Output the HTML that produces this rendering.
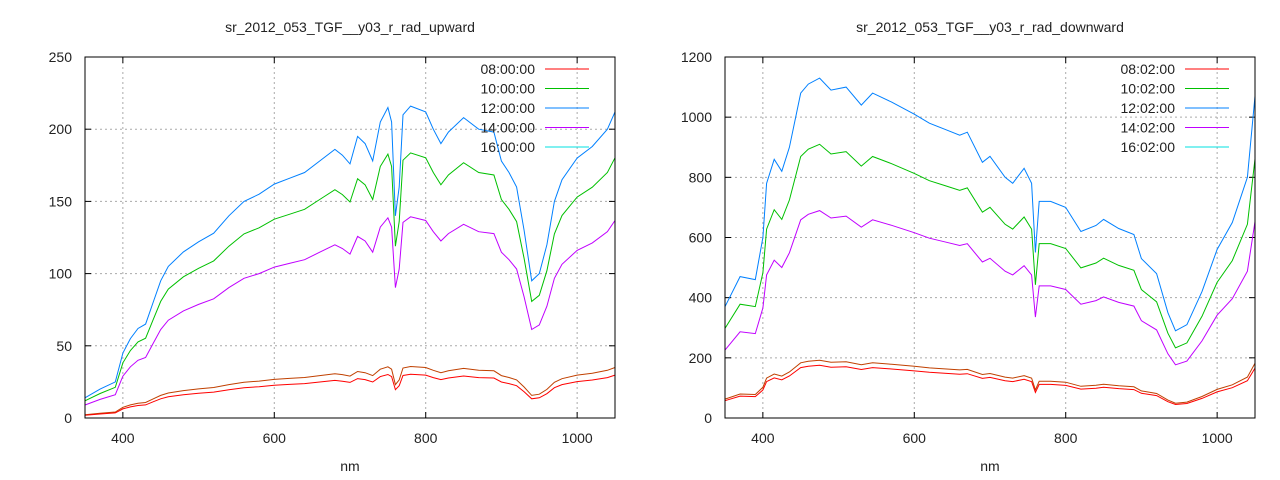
<!DOCTYPE html>
<html><head><style>body{margin:0;background:#fff}svg{display:block}text{font-family:"Liberation Sans",sans-serif;font-size:14px;fill:#222}</style></head>
<body>
<svg id="s" width="1280" height="480" xmlns="http://www.w3.org/2000/svg"></svg>
<script>
const S=document.getElementById('s');let h='';
const L=[[350,14],[370,20],[390,25],[400,45],[410,55],[420,62],[430,65],[440,80],[450,95],[460,105],[480,115],[500,122],[520,128],[540,140],[560,150],[580,155],[600,162],[620,166],[640,170],[660,178],[680,186],[690,182],[700,176],[710,195],[720,190],[730,178],[740,205],[750,215],[755,205],[760,140],[765,160],[770,210],[780,216],[800,212],[810,200],[820,190],[830,198],[850,208],[870,200],[890,198],[900,178],[910,170],[920,160],[930,130],[940,95],[950,100],[960,120],[970,150],[980,165],[1000,180],[1020,188],[1040,200],[1050,212]];
const R=[[350,370],[370,470],[390,460],[400,600],[405,780],[415,860],[425,820],[435,900],[450,1080],[460,1110],[475,1130],[490,1090],[510,1100],[530,1040],[545,1080],[570,1050],[600,1010],[620,980],[640,960],[660,940],[670,950],[690,850],[700,870],[720,800],[730,780],[745,830],[755,780],[760,550],[765,720],[780,720],[800,700],[820,620],[840,640],[850,660],[870,630],[890,610],[900,530],[920,480],[935,350],[945,290],[960,310],[980,420],[1000,560],[1020,650],[1040,800],[1050,1070]];
function plot(x0,title,ymax,ystep,data,labels,r){
 const x1=x0+530,y0=57,y1=418;
 const X=v=>x0+(v-350)*530/700,Y=v=>y1-v*361/ymax;
 for(let v=0;v<=ymax;v+=ystep){const y=Y(v);
  if(v>0&&v<ymax)h+=`<line x1="${x0}" x2="${x1}" y1="${y}" y2="${y}" stroke="#aaa" stroke-dasharray="2,3"/>`;
  h+=`<line x1="${x0}" x2="${x0+6}" y1="${y}" y2="${y}" stroke="#000"/><line x1="${x1}" x2="${x1-6}" y1="${y}" y2="${y}" stroke="#000"/>`;
  h+=`<text x="${x0-13}" y="${y+5}" text-anchor="end">${v}</text>`;}
 for(const v of [400,600,800,1000]){const x=X(v);
  h+=`<line x1="${x}" x2="${x}" y1="${y0}" y2="${y1}" stroke="#aaa" stroke-dasharray="2,3"/>`;
  h+=`<line x1="${x}" x2="${x}" y1="${y1}" y2="${y1-6}" stroke="#000"/><line x1="${x}" x2="${x}" y1="${y0}" y2="${y0+6}" stroke="#000"/>`;
  h+=`<text x="${x}" y="443" text-anchor="middle">${v}</text>`;}
 const path=(f,c)=>{let d='';for(let i=0;i<data.length;i++){const [a,b]=data[i];d+=(i?'L':'M')+X(a).toFixed(1)+','+Y(f(b,a)).toFixed(1);}h+=`<path d="${d}" fill="none" stroke="${c}" stroke-width="1"/>`;};
 path(b=>b,'#0080ff');path(b=>b*r[0],'#00c000');path(b=>b*r[1],'#c000ff');
 path(b=>b*r[2],'#c04000');path(b=>b*r[3],'#ff0000');
 h+=`<rect x="${x0}" y="${y0}" width="530" height="361" fill="none" stroke="#000"/>`;
 h+=`<text x="${x0+265}" y="32" text-anchor="middle">${title}</text><text x="${x0+265}" y="471" text-anchor="middle">nm</text>`;
 const cols=['#ff0000','#00c000','#0080ff','#c000ff','#00e0e0'];
 labels.forEach((l,i)=>{const y=69+i*19.5;h+=`<text x="${x1-80}" y="${y+5}" text-anchor="end">${l}</text><line x1="${x1-70}" x2="${x1-26}" y1="${y}" y2="${y}" stroke="${cols[i]}"/>`;});
}
plot(85,'sr_2012_053_TGF__y03_r_rad_upward',250,50,L,['08:00:00','10:00:00','12:00:00','14:00:00','16:00:00'],[0.85,0.645,0.165,0.14]);
plot(725,'sr_2012_053_TGF__y03_r_rad_downward',1200,200,R,['08:02:00','10:02:00','12:02:00','14:02:00','16:02:00'],[0.805,0.61,0.17,0.155]);
S.innerHTML=h;
</script>
</body></html>
